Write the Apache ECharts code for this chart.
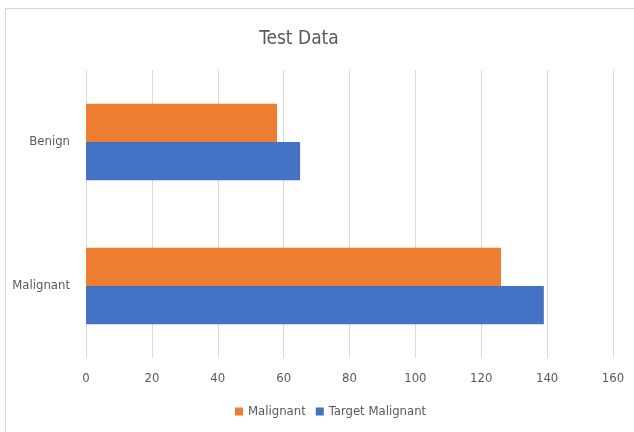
<!DOCTYPE html>
<html>
<head>
<meta charset="utf-8">
<script src="https://cdn.jsdelivr.net/npm/echarts@6/dist/echarts.min.js"></script>
<style>
    html, body {margin: 0; padding: 0; background: #fff;}
    #frame {position: absolute; left: 5px; top: 8px; width: 700px; height: 500px; border: 1px solid #d9d9d9;}
    #chart {position: absolute; left: 0; top: 0; width: 634px; height: 432px;}
</style>
</head>
<body>
<div id="frame"></div>
<div id="chart"></div>
<script>
// categories are listed bottom to top (echarts starts at the axis origin)
const categories = ['Malignant', 'Benign'];
const malignant = [126, 58];
const targetMalignant = [139, 65];
const legendNames = ['Malignant', 'Target Malignant'];

const FONT = '"DejaVu Sans Condensed", "Liberation Sans Narrow", sans-serif';
const TEXT_COLOR = '#595959';
const GRID_COLOR = '#d9d9d9';

const chart = echarts.init(document.getElementById('chart'), null, {renderer: 'canvas'});

chart.setOption({
    animation: false,
    textStyle: {fontFamily: FONT},
    title: {
        text: 'Test Data',
        left: 294,
        top: 24,
        textAlign: 'center',
        textStyle: {
            fontFamily: FONT,
            fontSize: 19,
            fontWeight: 'normal',
            color: TEXT_COLOR,
            lineHeight: 20
        }
    },
    legend: {
        data: legendNames,
        left: 230,
        top: 400,
        icon: 'rect',
        itemWidth: 8,
        itemHeight: 8,
        itemGap: 10,
        textStyle: {
            fontFamily: FONT,
            fontSize: 13,
            color: TEXT_COLOR
        }
    },
    grid: {
        left: 86,
        right: 21,
        top: 70,
        bottom: 74,
        containLabel: false
    },
    xAxis: {
        type: 'value',
        min: 0,
        max: 160,
        interval: 20,
        axisLine: {show: false},
        axisTick: {show: false},
        axisLabel: {
            margin: 14,
            fontFamily: FONT,
            fontSize: 13,
            color: TEXT_COLOR
        },
        splitLine: {
            show: true,
            lineStyle: {color: GRID_COLOR, width: 1}
        }
    },
    yAxis: {
        type: 'category',
        data: categories,
        axisLine: {show: false},
        axisTick: {show: false},
        axisLabel: {
            margin: 16,
            fontFamily: FONT,
            fontSize: 13,
            color: TEXT_COLOR
        },
        splitLine: {show: false}
    },
    series: [
        {
            name: 'Malignant',
            type: 'bar',
            data: malignant,
            barGap: '0%',
            barCategoryGap: '47%',
            itemStyle: {color: '#ed7d31'}
        },
        {
            name: 'Target Malignant',
            type: 'bar',
            data: targetMalignant,
            barGap: '0%',
            barCategoryGap: '47%',
            itemStyle: {color: '#4472c4'}
        }
    ]
});
</script>
</body>
</html>
